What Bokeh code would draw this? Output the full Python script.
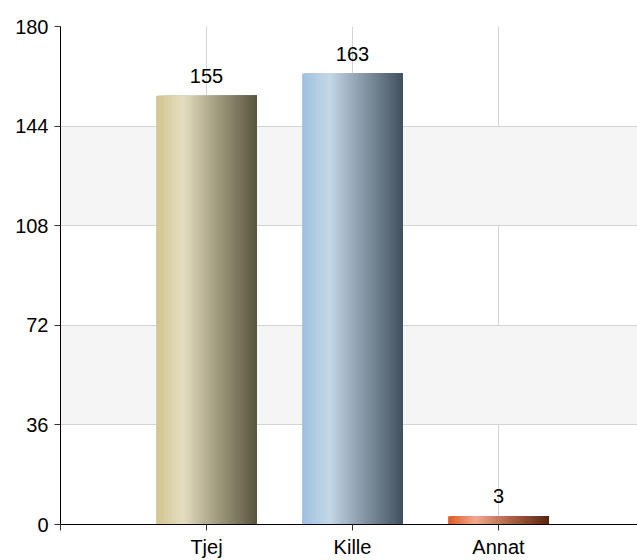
import numpy as np
from bokeh.plotting import figure
from bokeh.models import Range1d, FixedTicker
from bokeh.embed import file_html
from bokeh.resources import INLINE
from bokeh.core.properties import value

categories = ["Tjej", "Kille", "Annat"]
counts = [155, 163, 3]
positions = [1, 2, 3]
y_ticks = [0, 36, 72, 108, 144, 180]

gradients = [
    [(0.0, "#d2c690"), (0.27, "#e4ddc0"), (0.6, "#a39d80"), (1.0, "#58553e")],
    [(0.0, "#9ec0df"), (0.27, "#c4d8e8"), (0.6, "#8798a8"), (1.0, "#415160")],
    [(0.0, "#e05a28"), (0.27, "#f0aa8c"), (0.6, "#b06848"), (1.0, "#5a2410")],
]

FONT = "Liberation Sans"
BAR_W = 0.69
N_STRIPS = 60


def hex_to_rgb(h):
    h = h.lstrip("#")
    return np.array([int(h[i:i + 2], 16) for i in (0, 2, 4)], dtype=float)


def interp_color(stops, t):
    for (t0, c0), (t1, c1) in zip(stops[:-1], stops[1:]):
        if t0 <= t <= t1:
            f = (t - t0) / (t1 - t0) if t1 > t0 else 0
            c = hex_to_rgb(c0) * (1 - f) + hex_to_rgb(c1) * f
            return "#%02x%02x%02x" % tuple(int(round(v)) for v in c)
    return stops[-1][1]


p = figure(width=637, height=560, output_backend="svg", toolbar_location=None,
           x_range=Range1d(0, 3.952), y_range=Range1d(0, 180),
           min_border_left=60, min_border_right=0, min_border_top=26,
           min_border_bottom=35)
p.outline_line_color = None
p.background_fill_color = "white"

# gradient bars built from layered strips (each reaches to the bar's right edge)
lefts, rights, tops, cols = [], [], [], []
sw = BAR_W / N_STRIPS
for pos, cnt, stops in zip(positions, counts, gradients):
    for j in range(N_STRIPS):
        t = (j + 0.5) / N_STRIPS
        lefts.append(pos - BAR_W / 2 + j * sw)
        rights.append(pos + BAR_W / 2)
        tops.append(cnt)
        cols.append(interp_color(stops, t))
p.quad(left=lefts, right=rights, top=tops, bottom=0, fill_color=cols, line_color=None)

# data labels
p.text(x=positions, y=counts, text=[str(c) for c in counts],
       text_align="center", text_baseline="bottom", y_offset=-13,
       text_font=value(FONT), text_font_size="20px", text_color="#000000")

# axes
p.yaxis.ticker = FixedTicker(ticks=y_ticks)
p.xaxis.ticker = FixedTicker(ticks=[0] + positions)
overrides = {0: ""}
for pos, cat in zip(positions, categories):
    overrides[pos] = cat
p.xaxis.major_label_overrides = overrides
for ax in (p.xaxis, p.yaxis):
    ax.axis_line_color = "#000000"
    ax.axis_line_width = 1
    ax.major_tick_line_color = "#333333"
    ax.major_tick_out = 6
    ax.major_tick_in = 0
    ax.minor_tick_line_color = None
    ax.major_label_text_font = FONT
    ax.major_label_text_font_size = "20px"
    ax.major_label_text_color = "#000000"
p.yaxis.major_label_standoff = 6
p.xaxis.major_label_standoff = 5

# grids
p.ygrid.ticker = FixedTicker(ticks=y_ticks)
p.ygrid.grid_line_color = "#d3d3d3"
p.ygrid.band_fill_color = "#f5f5f5"
p.ygrid.band_fill_alpha = 1.0
p.xgrid.ticker = FixedTicker(ticks=positions)
p.xgrid.grid_line_color = "#d3d3d3"

open("out.html", "w").write(file_html(p, INLINE))
